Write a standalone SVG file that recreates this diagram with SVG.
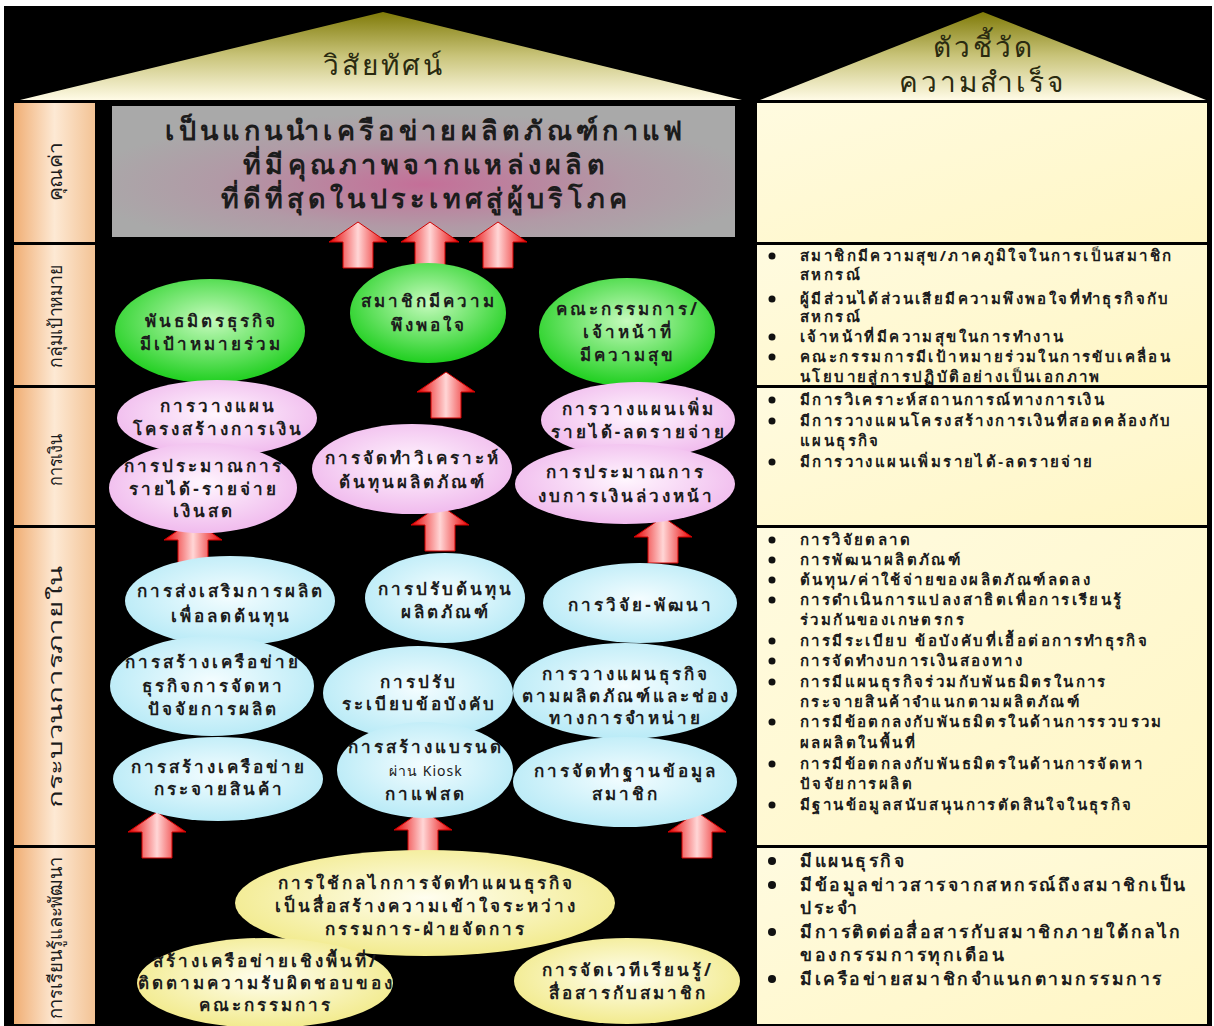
<svg xmlns="http://www.w3.org/2000/svg" width="1214" height="1026" viewBox="0 0 1214 1026">
<defs>
<linearGradient id="tri" x1="0" y1="0" x2="0" y2="1">
<stop offset="0" stop-color="#7f7a08"/>
<stop offset="0.5" stop-color="#c9c47a"/>
<stop offset="1" stop-color="#fffbe6"/>
</linearGradient>
<linearGradient id="lab" x1="0" y1="0" x2="1" y2="0">
<stop offset="0" stop-color="#f0ae74"/>
<stop offset="0.5" stop-color="#fde9d4"/>
<stop offset="1" stop-color="#f3c395"/>
</linearGradient>
<linearGradient id="ind" x1="0" y1="0" x2="1" y2="1">
<stop offset="0" stop-color="#fffbe0"/>
<stop offset="1" stop-color="#fff6c4"/>
</linearGradient>
<radialGradient id="vis" cx="0.5" cy="0.6" r="0.55">
<stop offset="0" stop-color="#c46f98"/>
<stop offset="0.6" stop-color="#b19aa6"/>
<stop offset="1" stop-color="#a9a9a9"/>
</radialGradient>
<linearGradient id="arr" x1="0" y1="0" x2="1" y2="0">
<stop offset="0" stop-color="#e80000"/>
<stop offset="0.5" stop-color="#ffd6d6"/>
<stop offset="1" stop-color="#e80000"/>
</linearGradient>
<radialGradient id="gG" cx="0.5" cy="0.4" r="0.6">
<stop offset="0" stop-color="#c6fbbe"/>
<stop offset="1" stop-color="#1fcf1f"/>
</radialGradient>
<radialGradient id="gP" cx="0.5" cy="0.45" r="0.6">
<stop offset="0" stop-color="#fff6fe"/>
<stop offset="1" stop-color="#efb6ec"/>
</radialGradient>
<radialGradient id="gC" cx="0.5" cy="0.45" r="0.6">
<stop offset="0" stop-color="#f4fdff"/>
<stop offset="1" stop-color="#b4e9f6"/>
</radialGradient>
<radialGradient id="gY" cx="0.5" cy="0.45" r="0.6">
<stop offset="0" stop-color="#fffef0"/>
<stop offset="1" stop-color="#f1e985"/>
</radialGradient>
<path id="arrow" d="M0,0 L29,20 L15,20 L15,46 L-15,46 L-15,20 L-29,20 Z" fill="url(#arr)" stroke="#d00000" stroke-width="1"/>
</defs>
<style>
text{font-family:"Noto Sans","DejaVu Sans",sans-serif;fill:#1c1c1c}
.tt{font-size:28px;letter-spacing:3px;text-anchor:middle;fill:#2a2a10}
.lb{font-size:19px;text-anchor:middle}
.vt{font-size:27px;letter-spacing:4.3px;font-weight:bold;text-anchor:middle}
.et{font-size:17px;letter-spacing:3px;font-weight:bold;text-anchor:middle}
.ek{font-size:14px;letter-spacing:1px;text-anchor:middle}
.it{font-size:15px;letter-spacing:2.4px;font-weight:bold}
.it2{font-size:17.5px;letter-spacing:2.5px;font-weight:bold}
</style>
<rect x="0" y="0" width="1214" height="1026" fill="#ffffff"/>
<rect x="4" y="6" width="1208" height="1020" fill="#000000"/>
<g id="header-vision">
<polygon points="383,12 20,100 742,100" fill="url(#tri)"/>
<text class="tt" x="384" y="75">วิสัยทัศน์</text>
</g>
<g id="header-indicators">
<polygon points="983,12 760,100 1206,100" fill="url(#tri)"/>
<text class="tt" x="984" y="57">ตัวชี้วัด</text>
<text class="tt" x="982" y="92">ความสำเร็จ</text>
</g>
<g id="labels">
<rect x="14" y="103" width="81" height="139" fill="url(#lab)"/>
<rect x="14" y="245" width="81" height="140" fill="url(#lab)"/>
<rect x="14" y="388" width="81" height="137" fill="url(#lab)"/>
<rect x="14" y="528" width="81" height="317" fill="url(#lab)"/>
<rect x="14" y="848" width="81" height="176" fill="url(#lab)"/>
<text class="lb" transform="translate(62,172) rotate(-90) scale(1.1,1)">คุณค่า</text>
<text class="lb" transform="translate(62,316) rotate(-90) scale(0.93,1)">กลุ่มเป้าหมาย</text>
<text class="lb" transform="translate(62,460) rotate(-90) scale(0.85,1)">การเงิน</text>
<text class="lb" transform="translate(62,687) rotate(-90) scale(1.55,1)">กระบวนการภายใน</text>
<text class="lb" transform="translate(62,938) rotate(-90) scale(0.96,1)">การเรียนรู้และพัฒนา</text>
</g>
<g id="vision">
<rect x="112" y="106" width="623" height="131" fill="url(#vis)"/>
<text class="vt" x="426" y="140">เป็นแกนนำเครือข่ายผลิตภัณฑ์กาแฟ</text>
<text class="vt" x="426" y="174">ที่มีคุณภาพจากแหล่งผลิต</text>
<text class="vt" x="426" y="208">ที่ดีที่สุดในประเทศสู่ผู้บริโภค</text>
</g>
<g id="indicator-boxes">
<rect x="757" y="103" width="450" height="139" fill="url(#ind)"/>
<rect x="757" y="245" width="450" height="140" fill="url(#ind)"/>
<rect x="757" y="388" width="450" height="137" fill="url(#ind)"/>
<rect x="757" y="528" width="450" height="317" fill="url(#ind)"/>
<rect x="757" y="848" width="450" height="176" fill="url(#ind)"/>
</g>
<g id="connectors">
<use href="#arrow" x="358" y="222"/>
<use href="#arrow" x="430" y="222"/>
<use href="#arrow" x="498" y="222"/>
<use href="#arrow" x="446" y="372"/>
<use href="#arrow" x="193" y="520"/>
<use href="#arrow" x="440" y="505"/>
<use href="#arrow" x="663" y="517"/>
<use href="#arrow" x="157" y="812"/>
<use href="#arrow" x="423" y="810"/>
<use href="#arrow" x="697" y="812"/>
</g>
<g id="customer-nodes">
<g id="n-partner"><ellipse cx="210" cy="331" rx="95" ry="52" fill="url(#gG)"/>
<text class="et" x="211" y="327">พันธมิตรธุรกิจ</text><text class="et" x="211" y="350">มีเป้าหมายร่วม</text></g>
<g id="n-member"><ellipse cx="428" cy="313" rx="78" ry="50" fill="url(#gG)"/>
<text class="et" x="429" y="307">สมาชิกมีความ</text><text class="et" x="429" y="331">พึงพอใจ</text></g>
<g id="n-committee"><ellipse cx="627" cy="332" rx="88" ry="54" fill="url(#gG)"/>
<text class="et" x="628" y="315">คณะกรรมการ/</text><text class="et" x="628" y="338">เจ้าหน้าที่</text><text class="et" x="628" y="361">มีความสุข</text></g>
</g>
<g id="finance-nodes">
<g id="n-fin-structure"><ellipse cx="217" cy="418" rx="100" ry="38" fill="url(#gP)"/>
<text class="et" x="218" y="412">การวางแผน</text><text class="et" x="218" y="435">โครงสร้างการเงิน</text></g>
<g id="n-cash"><ellipse cx="203" cy="488" rx="94" ry="45" fill="url(#gP)"/>
<text class="et" x="204" y="472">การประมาณการ</text><text class="et" x="204" y="495">รายได้-รายจ่าย</text><text class="et" x="204" y="517">เงินสด</text></g>
<g id="n-cost"><ellipse cx="412" cy="469" rx="100" ry="45" fill="url(#gP)"/>
<text class="et" x="413" y="464">การจัดทำวิเคราะห์</text><text class="et" x="413" y="488">ต้นทุนผลิตภัณฑ์</text></g>
<g id="n-income"><ellipse cx="638" cy="420" rx="97" ry="38" fill="url(#gP)"/>
<text class="et" x="639" y="415">การวางแผนเพิ่ม</text><text class="et" x="639" y="438">รายได้-ลดรายจ่าย</text></g>
<g id="n-budget"><ellipse cx="625" cy="484" rx="110" ry="40" fill="url(#gP)"/>
<text class="et" x="626" y="478">การประมาณการ</text><text class="et" x="626" y="502">งบการเงินล่วงหน้า</text></g>
</g>
<g id="process-nodes">
<g id="n-promote"><ellipse cx="230" cy="601" rx="105" ry="45" fill="url(#gC)"/>
<text class="et" x="231" y="597">การส่งเสริมการผลิต</text><text class="et" x="231" y="622">เพื่อลดต้นทุน</text></g>
<g id="n-adjcost"><ellipse cx="445" cy="598" rx="80" ry="45" fill="url(#gC)"/>
<text class="et" x="446" y="595">การปรับต้นทุน</text><text class="et" x="446" y="618">ผลิตภัณฑ์</text></g>
<g id="n-rnd"><ellipse cx="640" cy="603" rx="97" ry="40" fill="url(#gC)"/>
<text class="et" x="641" y="611">การวิจัย-พัฒนา</text></g>
<g id="n-rules"><ellipse cx="418" cy="693" rx="95" ry="47" fill="url(#gC)"/>
<text class="et" x="419" y="688">การปรับ</text><text class="et" x="419" y="710">ระเบียบข้อบังคับ</text></g>
<g id="n-supply"><ellipse cx="212" cy="686" rx="102" ry="50" fill="url(#gC)"/>
<text class="et" x="213" y="668">การสร้างเครือข่าย</text><text class="et" x="213" y="692">ธุรกิจการจัดหา</text><text class="et" x="213" y="715">ปัจจัยการผลิต</text></g>
<g id="n-bizplan"><ellipse cx="625" cy="691" rx="112" ry="48" fill="url(#gC)"/>
<text class="et" x="626" y="680">การวางแผนธุรกิจ</text><text class="et" x="626" y="702">ตามผลิตภัณฑ์และช่อง</text><text class="et" x="626" y="724">ทางการจำหน่าย</text></g>
<g id="n-distrib"><ellipse cx="218" cy="779" rx="105" ry="42" fill="url(#gC)"/>
<text class="et" x="219" y="773">การสร้างเครือข่าย</text><text class="et" x="219" y="795">กระจายสินค้า</text></g>
<g id="n-brand"><ellipse cx="425" cy="770" rx="88" ry="48" fill="url(#gC)"/>
<text class="et" x="426" y="753">การสร้างแบรนด</text><text class="ek" x="426" y="776">ผ่าน Kiosk</text><text class="et" x="426" y="800">กาแฟสด</text></g>
<g id="n-database"><ellipse cx="625" cy="782" rx="112" ry="45" fill="url(#gC)"/>
<text class="et" x="626" y="777">การจัดทำฐานข้อมูล</text><text class="et" x="626" y="800">สมาชิก</text></g>
</g>
<g id="learning-nodes">
<g id="n-mechanism"><ellipse cx="425" cy="903" rx="190" ry="53" fill="url(#gY)"/>
<text class="et" x="426" y="889">การใช้กลไกการจัดทำแผนธุรกิจ</text><text class="et" x="426" y="912">เป็นสื่อสร้างความเข้าใจระหว่าง</text><text class="et" x="426" y="935">กรรมการ-ฝ่ายจัดการ</text></g>
<g id="n-areanet"><ellipse cx="265" cy="983" rx="128" ry="45" fill="url(#gY)"/>
<text class="et" x="266" y="967">สร้างเครือข่ายเชิงพื้นที่/</text><text class="et" x="266" y="989">ติดตามความรับผิดชอบของ</text><text class="et" x="266" y="1011">คณะกรรมการ</text></g>
<g id="n-forum"><ellipse cx="627" cy="981" rx="113" ry="43" fill="url(#gY)"/>
<text class="et" x="628" y="976">การจัดเวทีเรียนรู้/</text><text class="et" x="628" y="999">สื่อสารกับสมาชิก</text></g>
</g>
<g id="indicator-text">
<g fill="#111">
<circle cx="772" cy="256" r="3.5"/><circle cx="772" cy="299" r="3.5"/><circle cx="772" cy="337" r="3.5"/><circle cx="772" cy="357" r="3.5"/>
<circle cx="772" cy="400" r="3.5"/><circle cx="772" cy="421" r="3.5"/><circle cx="772" cy="462" r="3.5"/>
<circle cx="772" cy="540" r="3.5"/><circle cx="772" cy="560" r="3.5"/><circle cx="772" cy="580" r="3.5"/><circle cx="772" cy="600" r="3.5"/><circle cx="772" cy="641" r="3.5"/><circle cx="772" cy="661" r="3.5"/><circle cx="772" cy="682" r="3.5"/><circle cx="772" cy="722" r="3.5"/><circle cx="772" cy="764" r="3.5"/><circle cx="772" cy="805" r="3.5"/>
<circle cx="772" cy="861" r="4"/><circle cx="772" cy="885" r="4"/><circle cx="772" cy="932" r="4"/><circle cx="772" cy="979" r="4"/>
</g>
<text class="it" x="800" y="261">สมาชิกมีความสุข/ภาคภูมิใจในการเป็นสมาชิก</text>
<text class="it" x="800" y="280">สหกรณ์</text>
<text class="it" x="800" y="304">ผู้มีส่วนได้ส่วนเสียมีความพึงพอใจที่ทำธุรกิจกับ</text>
<text class="it" x="800" y="322">สหกรณ์</text>
<text class="it" x="800" y="342">เจ้าหน้าที่มีความสุขในการทำงาน</text>
<text class="it" x="800" y="362">คณะกรรมการมีเป้าหมายร่วมในการขับเคลื่อน</text>
<text class="it" x="800" y="382">นโยบายสู่การปฏิบัติอย่างเป็นเอกภาพ</text>
<text class="it" x="800" y="405">มีการวิเคราะห์สถานการณ์ทางการเงิน</text>
<text class="it" x="800" y="426">มีการวางแผนโครงสร้างการเงินที่สอดคล้องกับ</text>
<text class="it" x="800" y="446">แผนธุรกิจ</text>
<text class="it" x="800" y="467">มีการวางแผนเพิ่มรายได้-ลดรายจ่าย</text>
<text class="it" x="800" y="545">การวิจัยตลาด</text>
<text class="it" x="800" y="565">การพัฒนาผลิตภัณฑ์</text>
<text class="it" x="800" y="585">ต้นทุน/ค่าใช้จ่ายของผลิตภัณฑ์ลดลง</text>
<text class="it" x="800" y="605">การดำเนินการแปลงสาธิตเพื่อการเรียนรู้</text>
<text class="it" x="800" y="625">ร่วมกันของเกษตรกร</text>
<text class="it" x="800" y="646">การมีระเบียบ ข้อบังคับที่เอื้อต่อการทำธุรกิจ</text>
<text class="it" x="800" y="666">การจัดทำงบการเงินสองทาง</text>
<text class="it" x="800" y="687">การมีแผนธุรกิจร่วมกับพันธมิตรในการ</text>
<text class="it" x="800" y="707">กระจายสินค้าจำแนกตามผลิตภัณฑ์</text>
<text class="it" x="800" y="727">การมีข้อตกลงกับพันธมิตรในด้านการรวบรวม</text>
<text class="it" x="800" y="748">ผลผลิตในพื้นที่</text>
<text class="it" x="800" y="769">การมีข้อตกลงกับพันธมิตรในด้านการจัดหา</text>
<text class="it" x="800" y="789">ปัจจัยการผลิต</text>
<text class="it" x="800" y="810">มีฐานข้อมูลสนับสนุนการตัดสินใจในธุรกิจ</text>
<text class="it2" x="800" y="867">มีแผนธุรกิจ</text>
<text class="it2" x="800" y="891">มีข้อมูลข่าวสารจากสหกรณ์ถึงสมาชิกเป็น</text>
<text class="it2" x="800" y="914">ประจำ</text>
<text class="it2" x="800" y="938">มีการติดต่อสื่อสารกับสมาชิกภายใต้กลไก</text>
<text class="it2" x="800" y="961">ของกรรมการทุกเดือน</text>
<text class="it2" x="800" y="985">มีเครือข่ายสมาชิกจำแนกตามกรรมการ</text>
</g>
</svg>
